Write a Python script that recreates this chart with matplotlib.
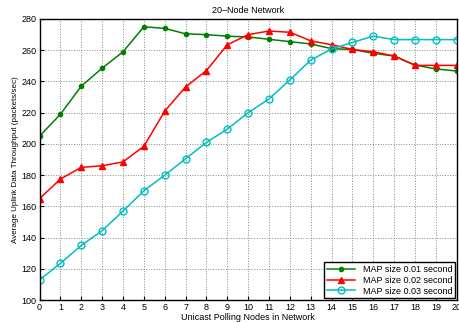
import matplotlib
matplotlib.use("Agg")
import matplotlib.pyplot as plt
import numpy as np

nodes = list(range(21))
map_01 = [205, 219, 237, 248.5, 259, 275, 274, 270.5, 270, 269, 268.5, 267, 265.5, 264, 261, 260.5, 258, 256.3, 250.5, 248, 246.7]
map_02 = [165, 177.5, 185, 186, 188.5, 198.5, 221, 236.5, 247, 263.5, 270, 272.3, 271.5, 266, 263.5, 260.5, 259, 256.3, 250.3, 250.3, 250.3]
map_03 = [113, 123.5, 135, 144.5, 157, 170, 180, 190.5, 201, 209.5, 220, 228.8, 241, 253.7, 260.8, 265, 269, 266.8, 266.8, 266.8, 266.8]

labels = ['MAP size 0.01 second', 'MAP size 0.02 second', 'MAP size 0.03 second']

plt.rcParams['font.family'] = ['Liberation Sans', 'DejaVu Sans']

fig = plt.figure(figsize=(4.6, 3.22), dpi=100)
ax = fig.add_axes([0.086, 0.068, 0.907, 0.873])

ax.plot(nodes, map_01, color='#008000', marker='.', ms=6, lw=1.1, label=labels[0])
ax.plot(nodes, map_02, color='#ff0000', marker='^', ms=5, lw=1.1, label=labels[1])
ax.plot(nodes, map_03, color='#00bfbf', marker='o', ms=5, mfc='none', mew=1.0, lw=1.1, label=labels[2])

ax.set_xlim(0, 20)
ax.set_ylim(100, 280)
ax.set_xticks(nodes)
ax.set_yticks(np.arange(100, 281, 20))
ax.tick_params(labelsize=6.5, direction='in', length=3, pad=2)
ax.grid(True, linestyle=':', color='#888888', linewidth=0.7)
for s in ax.spines.values():
    s.set_linewidth(1.0)

ax.set_title('20\u2013Node Network', fontsize=6.5, pad=4)
ax.set_xlabel('Unicast Polling Nodes in Network', fontsize=6.5, labelpad=1)
ax.set_ylabel('Average Uplink Data Throughput (packets/sec)', fontsize=5.8, labelpad=2)

leg = ax.legend(loc='lower right', fontsize=6.5, fancybox=False, framealpha=1,
                edgecolor='black', borderpad=0.3, labelspacing=0.2, handlelength=3.2,
                borderaxespad=0.2)
leg.get_frame().set_linewidth(1.0)

fig.savefig('out.png', dpi=100)
